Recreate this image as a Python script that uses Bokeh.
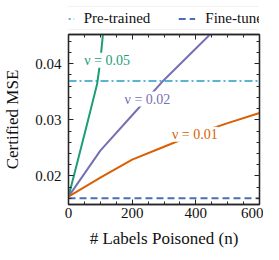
from bokeh.plotting import figure
from bokeh.layouts import column
from bokeh.models import (Range1d, LinearAxis, Legend, LegendItem, Label,
                          SingleIntervalTicker, CustomJSTickFormatter, NumeralTickFormatter)
from bokeh.embed import file_html
from bokeh.resources import INLINE

# ---- data ----
n_nu005 = [0, 30, 60, 90, 100, 110]
mse_nu005 = [0.0163, 0.0229, 0.0296, 0.0364, 0.0405, 0.0463]
n_nu002 = [0, 100, 200, 300, 400, 450]
mse_nu002 = [0.0163, 0.0245, 0.0308, 0.0371, 0.0427, 0.0455]
n_nu001 = [0, 100, 200, 300, 400, 500, 600]
mse_nu001 = [0.0163, 0.0197, 0.0229, 0.0252, 0.0275, 0.0294, 0.0312]
n_span = [0, 600]
pretrained_mse = 0.0369
finetuned_mse = 0.0160
label_texts = ["ν = 0.05", "ν = 0.02", "ν = 0.01"]
label_n = [121, 248, 397]
label_mse = [0.0406, 0.0337, 0.0274]

GREEN, PURPLE, ORANGE = "#1b9e77", "#7570b3", "#d95f02"
PRE, FINE = "#5ab4d2", "#4a6fb5"
FONT = "Liberation Serif"
AX = "#262626"
PRE_STYLE = dict(color=PRE, line_width=2, line_dash="8 3 2 3")
FINE_STYLE = dict(color=FINE, line_width=2, line_dash="7 4")

# ---------------- main plot ----------------
p = figure(width=263, height=220, x_range=Range1d(0, 600), y_range=Range1d(0.0149, 0.0452),
           output_backend="svg", toolbar_location=None,
           min_border_left=58, min_border_right=4, min_border_top=2, min_border_bottom=48)
p.xgrid.visible = False
p.ygrid.visible = False
p.outline_line_color = AX
p.outline_line_width = 1.3

p.line(n_span, [pretrained_mse] * 2, **PRE_STYLE)
p.line(n_span, [finetuned_mse] * 2, **FINE_STYLE)
p.line(n_nu005, mse_nu005, color=GREEN, line_width=2)
p.line(n_nu002, mse_nu002, color=PURPLE, line_width=2)
p.line(n_nu001, mse_nu001, color=ORANGE, line_width=2)

for t, xx, yy, c in zip(label_texts, label_n, label_mse, [GREEN, PURPLE, ORANGE]):
    p.add_layout(Label(x=xx, y=yy, text=t, text_color=c, text_font=FONT,
                       text_font_size="14px", text_align="center", text_baseline="middle",
                       background_fill_color="white", background_fill_alpha=1.0))

def style_axis(ax, show_labels=True):
    ax.axis_line_color = AX
    ax.axis_line_width = 1.3
    ax.major_tick_line_color = AX
    ax.minor_tick_line_color = AX
    ax.major_tick_in = 5
    ax.major_tick_out = 0
    ax.minor_tick_in = 3
    ax.minor_tick_out = 0
    ax.major_label_text_font = FONT
    ax.major_label_text_font_size = "15px"
    ax.major_label_text_color = "#111111"
    ax.axis_label_text_font = FONT
    ax.axis_label_text_font_size = "17px"
    ax.axis_label_text_font_style = "normal"
    ax.axis_label_text_color = "#111111"
    if not show_labels:
        ax.major_label_text_font_size = "0px"
        ax.major_label_standoff = 0
        ax.formatter = CustomJSTickFormatter(code="return ''")

p.xaxis.ticker = SingleIntervalTicker(interval=200, num_minor_ticks=4)
p.yaxis.ticker = SingleIntervalTicker(interval=0.01, num_minor_ticks=5)
p.yaxis.formatter = NumeralTickFormatter(format="0.00")
p.xaxis.axis_label = "# Labels Poisoned (n)"
p.yaxis.axis_label = "Certified MSE"
style_axis(p.xaxis[0])
style_axis(p.yaxis[0])
p.xaxis.major_label_standoff = 3
p.yaxis.major_label_standoff = 7
p.xaxis.axis_label_standoff = 8
p.yaxis.axis_label_standoff = 10

top = LinearAxis(ticker=SingleIntervalTicker(interval=200, num_minor_ticks=4))
style_axis(top, show_labels=False)
right = LinearAxis(ticker=SingleIntervalTicker(interval=0.01, num_minor_ticks=5))
style_axis(right, show_labels=False)
p.add_layout(top, "above")
p.add_layout(right, "right")

# ---------------- legend strip above ----------------
lf = figure(width=263, height=32, x_range=Range1d(0, 600), y_range=Range1d(1, 2),
            output_backend="svg", toolbar_location=None,
            min_border_left=28, min_border_right=0, min_border_top=6, min_border_bottom=2)
lf.axis.visible = False
lf.xgrid.visible = False
lf.ygrid.visible = False
lf.outline_line_color = None
r_pre = lf.line(n_span, [pretrained_mse] * 2, **PRE_STYLE)     # below the strip's range: legend only
r_fine = lf.line(n_span, [finetuned_mse] * 2, **FINE_STYLE)

legend = Legend(items=[LegendItem(label="Pre-trained", renderers=[r_pre]),
                       LegendItem(label="Fine-tuned", renderers=[r_fine])],
                orientation="horizontal", location="center",
                label_text_font=FONT, label_text_font_size="15px", label_text_color="#111111",
                glyph_width=17, glyph_height=10, label_standoff=10, spacing=28,
                padding=3, margin=0, border_line_color="#cccccc", border_line_width=1.5,
                background_fill_color="white", background_fill_alpha=1.0)
lf.add_layout(legend, "center")

open("out.html", "w").write(file_html(column(lf, p, spacing=0), INLINE))
